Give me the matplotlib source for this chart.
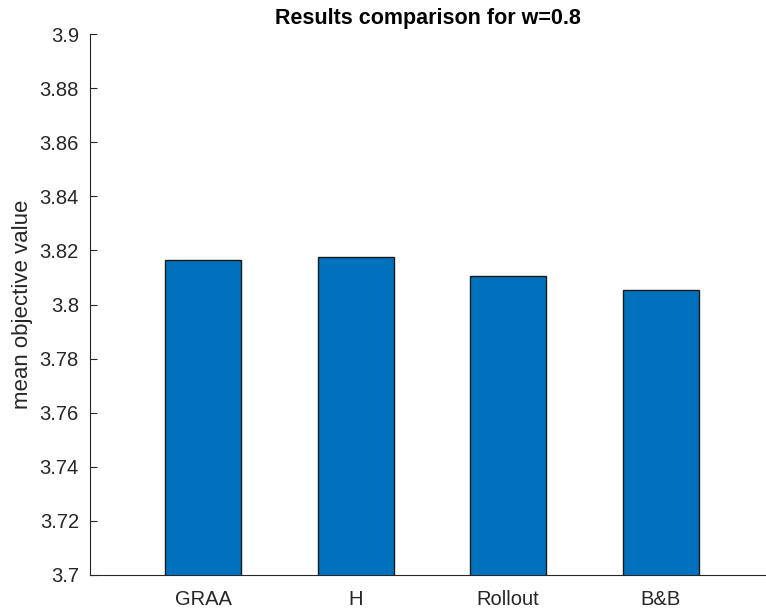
import matplotlib
matplotlib.use("Agg")
import matplotlib.pyplot as plt

methods = ["GRAA", "H", "Rollout", "B&B"]
mean_objective = [3.8165, 3.8175, 3.8105, 3.8055]
y_ticks = [3.7, 3.72, 3.74, 3.76, 3.78, 3.8, 3.82, 3.84, 3.86, 3.88, 3.9]
y_tick_labels = ["3.7", "3.72", "3.74", "3.76", "3.78", "3.8", "3.82", "3.84", "3.86", "3.88", "3.9"]

plt.rcParams["font.family"] = ["Liberation Sans", "DejaVu Sans"]
ink = "#262626"

fig = plt.figure(figsize=(7.66, 6.12), dpi=100)
ax = fig.add_axes([90 / 766, 1 - 575 / 612, 1 - 90 / 766, (575 - 34) / 612])

positions = list(range(1, len(methods) + 1))
ax.bar(positions, mean_objective, width=0.5, color="#0072BD",
       edgecolor="#1a1a1a", linewidth=1.0, zorder=2)

ax.set_ylim(3.7, 3.9)
ax.set_xlim(0.258, 4.69)
ax.set_yticks(y_ticks)
ax.set_yticklabels(y_tick_labels)
ax.set_xticks(positions)
ax.set_xticklabels(methods)

for side in ("top", "right"):
    ax.spines[side].set_visible(False)
for side in ("left", "bottom"):
    ax.spines[side].set_color(ink)
    ax.spines[side].set_linewidth(0.8)

ax.tick_params(axis="both", direction="in", length=5, width=0.8,
               colors=ink, labelsize=14.5, pad=8)
ax.tick_params(axis="x", length=0, pad=11)

ax.set_ylabel("mean objective value", fontsize=16, color=ink, labelpad=5)
ax.set_title("Results comparison for w=0.8", fontsize=15.5,
             fontweight="bold", color="black", pad=7)

fig.savefig("out.png", dpi=100)
